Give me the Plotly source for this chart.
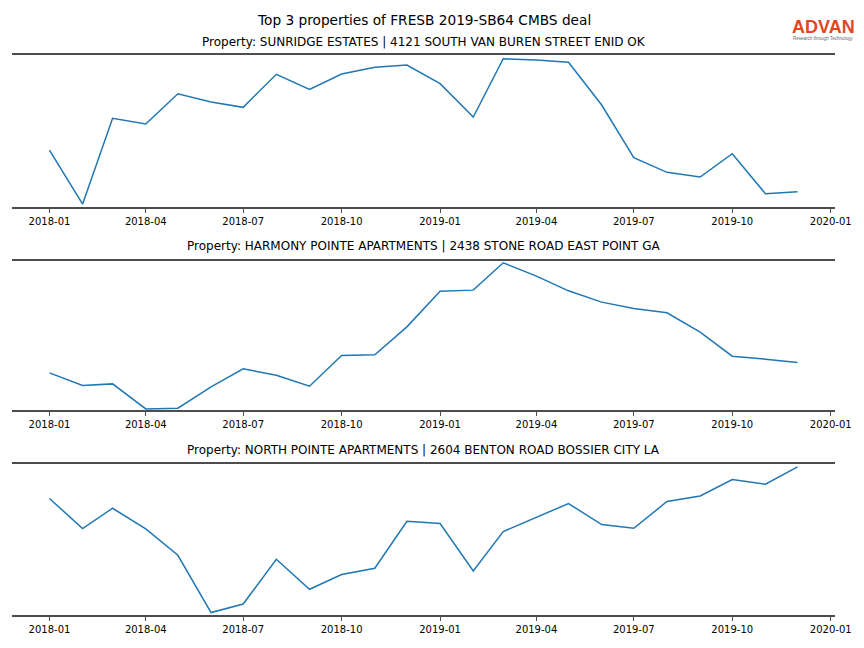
import plotly.graph_objects as go
import pandas as pd

months = pd.date_range("2018-01-01", "2019-12-01", freq="MS")

title = "Top 3 properties of FRESB 2019-SB64 CMBS deal"
names = [
    "Property: SUNRIDGE ESTATES | 4121 SOUTH VAN BUREN STREET ENID OK",
    "Property: HARMONY POINTE APARTMENTS | 2438 STONE ROAD EAST POINT GA",
    "Property: NORTH POINTE APARTMENTS | 2604 BENTON ROAD BOSSIER CITY LA",
]

sunridge = [57, 3, 88.7, 83, 113.3, 105, 99.7, 132.7, 117.7, 133, 139.7, 142,
            123.3, 90, 148.3, 147, 144.7, 102, 49.3, 34.7, 30, 53.3, 13.3, 15.3]
harmony = [37, 24.4, 26, 1, 1.7, 23, 41, 34.7, 23.7, 54.4, 55, 83,
           118.7, 119.7, 147, 133.7, 119, 107.7, 101.4, 97, 77.7, 53.7, 50.7, 47.4]
north = [116.4, 86.4, 106.7, 86, 59.7, 2.4, 11, 55.7, 25.7, 40.4, 46.7, 93.7,
         91.4, 44, 83.4, 97.7, 111.4, 90.4, 86.7, 113.4, 119, 135.4, 130.7, 148]
series = [sunridge, harmony, north]
y_ranges = [[0, 152], [0, 149], [0, 151]]

# the page places the figure 8px in from the top-left corner
OFF = 8
W, H = 864 - OFF, 648 - OFF
left_px, right_px, top_px, bottom_px = 12, 835, 55, 614.7
ml = left_px - OFF
mr = W - (right_px - OFF)
mt = top_px - OFF
mb = H - (bottom_px - OFF)
ph = H - mt - mb
pw = W - ml - mr


def py(pix):
    # reference pixel y (from top) -> paper fraction
    return (bottom_px - pix) / ph


def px(pix):
    return (pix - left_px) / pw


panel_px = [(55, 207), (260.7, 409.7), (463.7, 614.7)]
title_px = [42, 246, 450]

fig = go.Figure()
layout = {}
for i, (vals, (top, bot)) in enumerate(zip(series, panel_px)):
    n = "" if i == 0 else str(i + 1)
    fig.add_trace(go.Scatter(x=months, y=vals, mode="lines",
                             line=dict(color="#1f77b4", width=1.5),
                             xaxis="x" + n, yaxis="y" + n, showlegend=False))
    layout["xaxis" + n] = dict(
        domain=[0, 1], anchor="y" + n, type="date",
        range=["2017-11-27", "2020-01-05"],
        tick0="2018-01-01", dtick="M3", tickformat="%Y-%m",
        showline=True, mirror=True, linecolor="#4d4d4d", linewidth=2,
        ticks="outside", ticklen=4, tickwidth=1, tickcolor="#4d4d4d",
        showgrid=False, zeroline=False,
        tickfont=dict(family="DejaVu Sans", size=10, color="black"),
    )
    layout["yaxis" + n] = dict(
        domain=[py(bot), py(top)], anchor="x" + n, range=y_ranges[i],
        showline=False, showgrid=False, zeroline=False,
        showticklabels=False, ticks="",
    )

annotations = [dict(text=title, x=0.5, xref="paper", y=py(20), yref="paper",
                    showarrow=False, yanchor="middle", xanchor="center",
                    font=dict(family="DejaVu Sans", size=13.7, color="black"))]
for t, yp in zip(names, title_px):
    annotations.append(dict(text=t, x=0.5, xref="paper", y=py(yp), yref="paper",
                            showarrow=False, yanchor="middle", xanchor="center",
                            font=dict(family="DejaVu Sans", size=12, color="black")))
annotations.append(dict(text="<b>ADVAN</b>", x=px(823), xref="paper", y=py(27), yref="paper",
                        showarrow=False, yanchor="middle", xanchor="center",
                        font=dict(family="Liberation Sans", size=18, color="#e0481c")))
annotations.append(dict(text="Research through Technology", x=px(823), xref="paper",
                        y=py(38.5), yref="paper", showarrow=False, yanchor="middle",
                        xanchor="center",
                        font=dict(family="Liberation Sans", size=4.5, color="#666666")))

fig.update_layout(
    width=W, height=H,
    margin=dict(l=ml, r=mr, t=mt, b=mb),
    paper_bgcolor="white", plot_bgcolor="white",
    annotations=annotations,
    **layout,
)
fig.write_html("out.html")
